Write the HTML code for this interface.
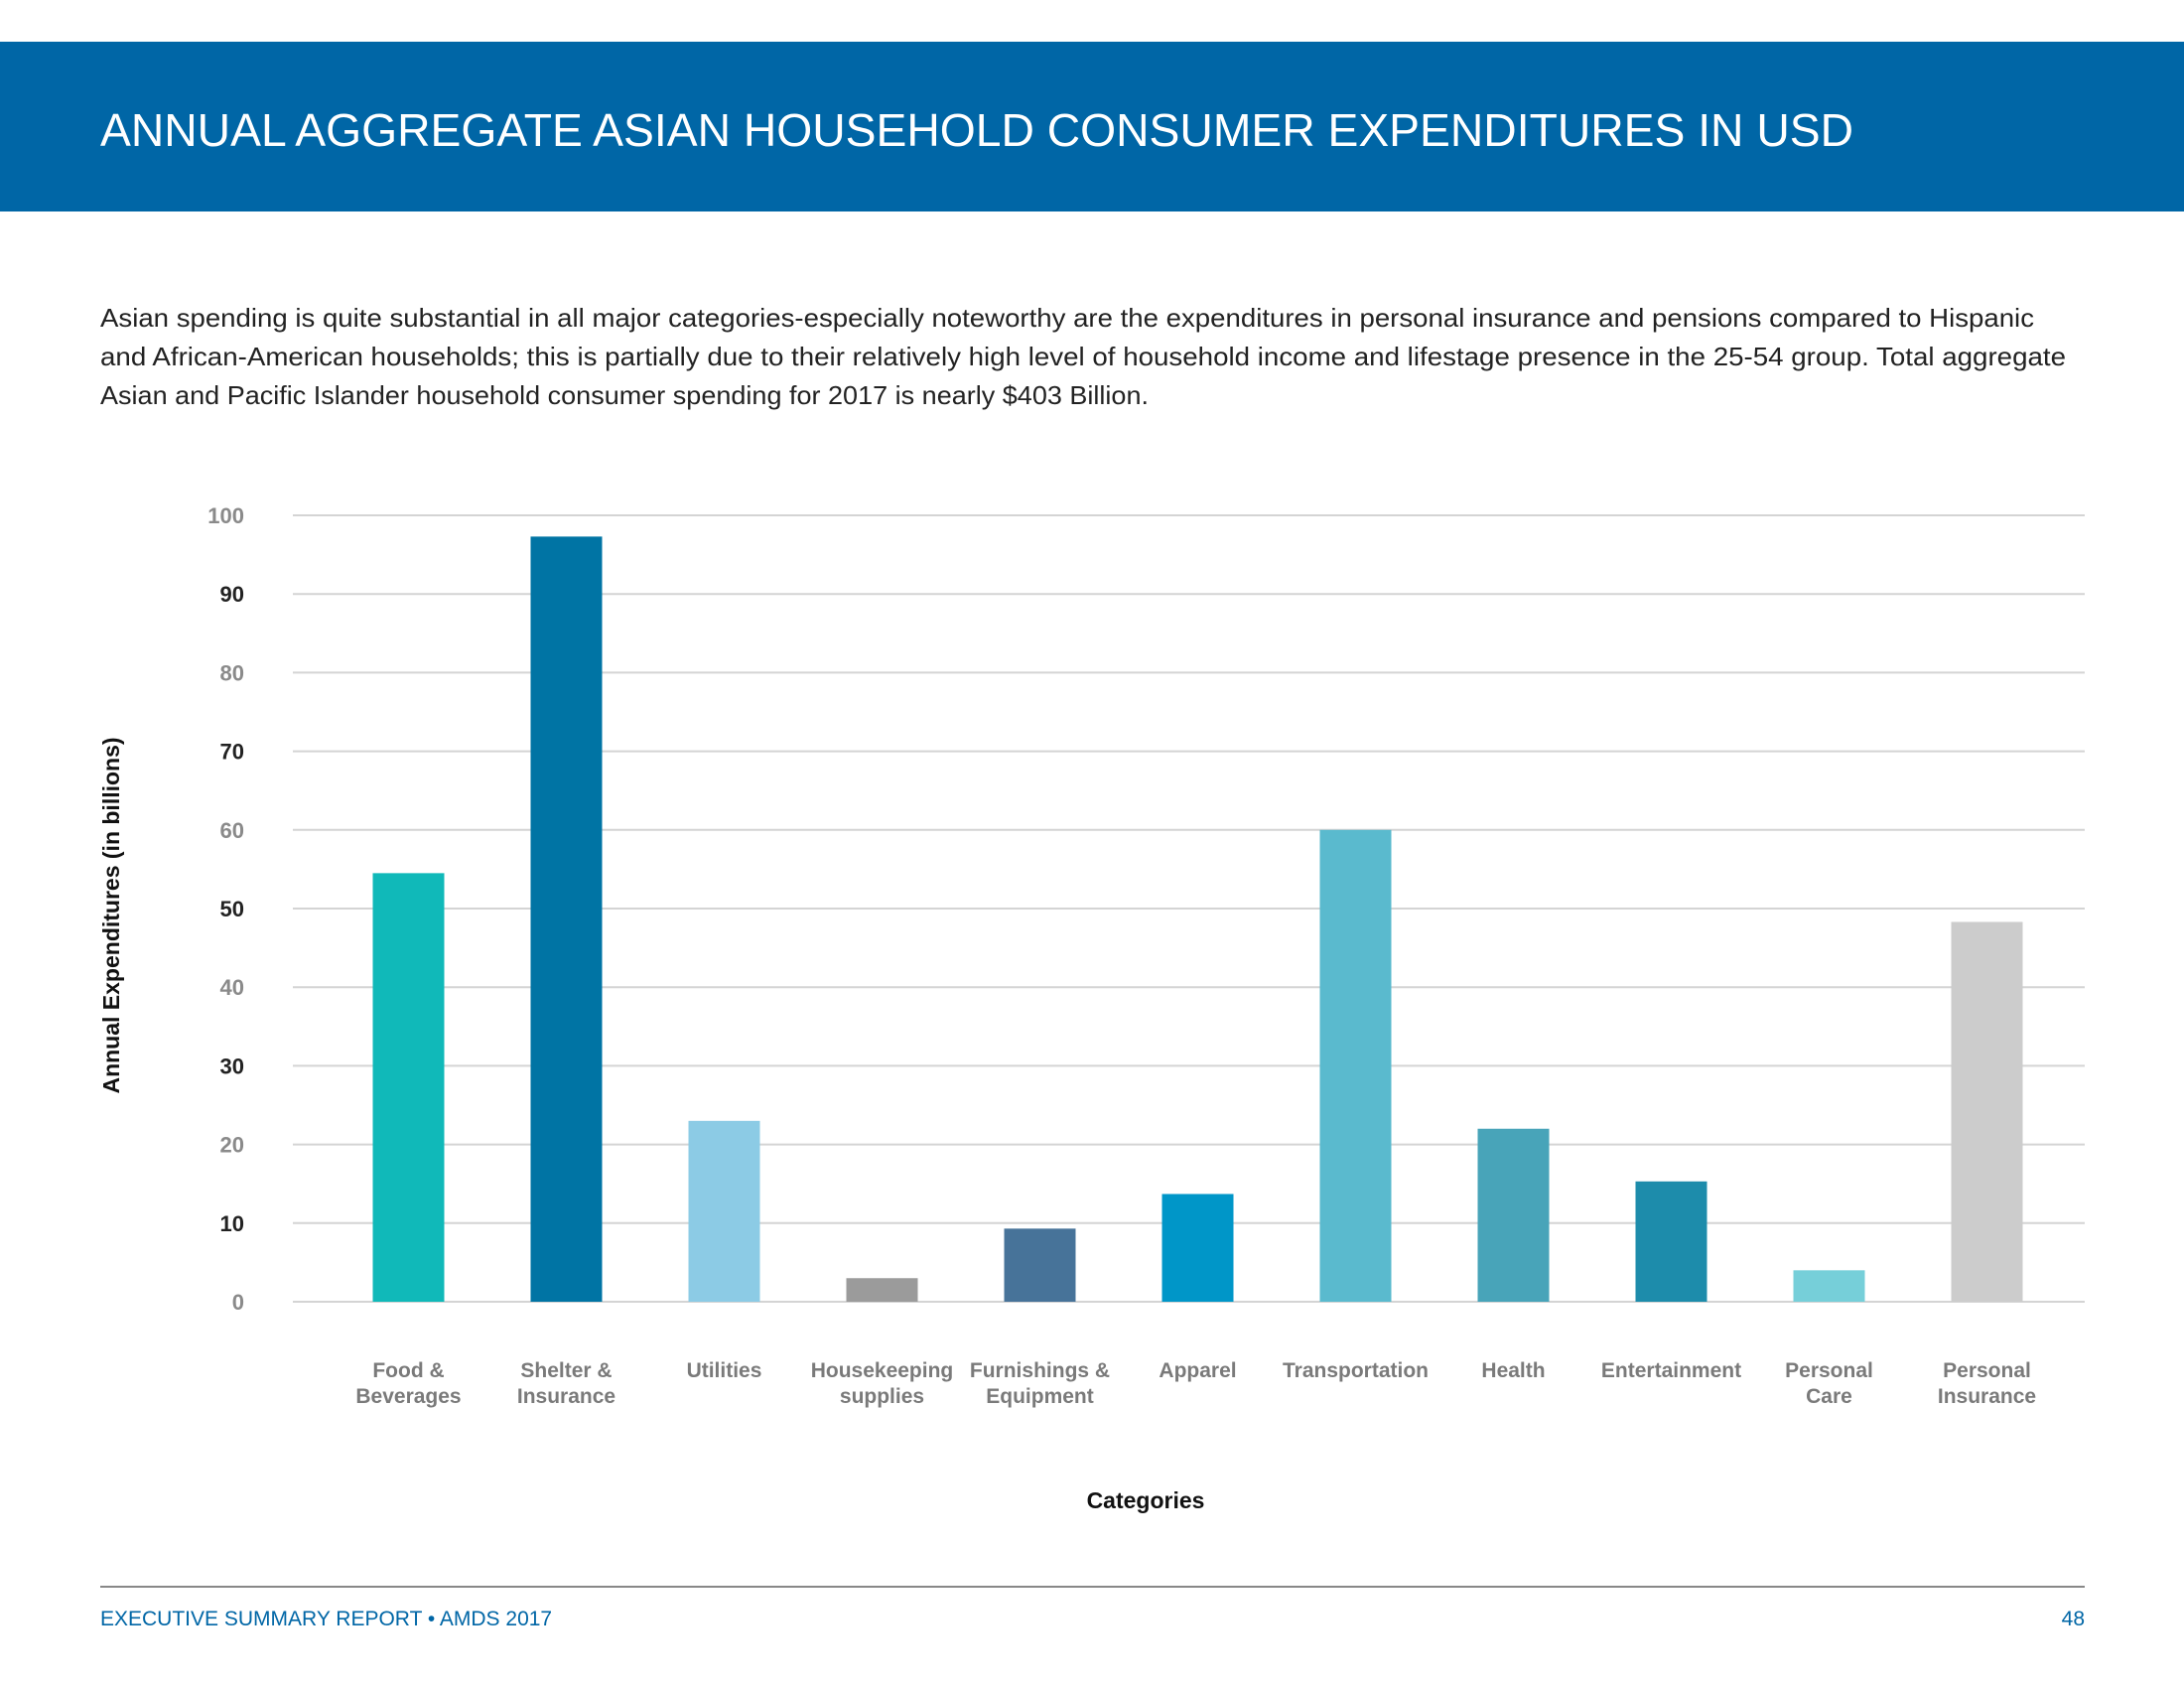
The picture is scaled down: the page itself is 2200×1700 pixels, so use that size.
<!DOCTYPE html>
<html><head><meta charset="utf-8"><style>
html,body{margin:0;padding:0;background:#fff;}
svg{display:block;font-family:"Liberation Sans",sans-serif;}
</style></head><body>
<svg id="page" width="2200" height="1700" viewBox="0 0 2200 1700">
<rect x="0" y="42" width="2200" height="171" fill="#0066a6"/>
<text x="101" y="147" font-size="46" fill="#fff" textLength="1766" lengthAdjust="spacingAndGlyphs">ANNUAL AGGREGATE ASIAN HOUSEHOLD CONSUMER EXPENDITURES IN USD</text>
<g font-size="26" fill="#222">
<text x="101" y="329" textLength="1948" lengthAdjust="spacingAndGlyphs">Asian spending is quite substantial in all major categories-especially noteworthy are the expenditures in personal insurance and pensions compared to Hispanic</text>
<text x="101" y="368" textLength="1980" lengthAdjust="spacingAndGlyphs">and African-American households; this is partially due to their relatively high level of household income and lifestage presence in the 25-54 group. Total aggregate</text>
<text x="101" y="407" textLength="1056" lengthAdjust="spacingAndGlyphs">Asian and Pacific Islander household consumer spending for 2017 is nearly $403 Billion.</text>
</g>
<g id="chart"></g>
<text x="1154" y="1519" font-size="23" font-weight="bold" fill="#111" text-anchor="middle">Categories</text>
<text transform="translate(120,922) rotate(-90)" font-size="23" font-weight="bold" fill="#111" text-anchor="middle">Annual Expenditures (in billions)</text>
<line x1="101" y1="1598" x2="2100" y2="1598" stroke="#888" stroke-width="2"/>
<text x="101" y="1637" font-size="21" fill="#0066a6">EXECUTIVE SUMMARY REPORT  •  AMDS 2017</text>
<text x="2100" y="1637" font-size="21" fill="#0066a6" text-anchor="end">48</text>
</svg>
<script>
const categories = [["Food &","Beverages"],["Shelter &","Insurance"],["Utilities"],["Housekeeping","supplies"],["Furnishings &","Equipment"],["Apparel"],["Transportation"],["Health"],["Entertainment"],["Personal","Care"],["Personal","Insurance"]];
const values = [54.5, 97.3, 23, 3, 9.3, 13.7, 60, 22, 15.3, 4, 48.3];
const barColors = ["#10b9b9","#0074a4","#8ccbe5","#9b9b9b","#477399","#0096c8","#5abace","#48a4b9","#1d8cab","#76cfd9","#cccccc"];
const yTicks = [0,10,20,30,40,50,60,70,80,90,100];
const NS="http://www.w3.org/2000/svg";
const g=document.getElementById('chart');
const X0=295,X1=2100,Y0=1311,Y100=519;
const y=v=>Y0-(v/100)*(Y0-Y100);
const bandStart=332,band=159,barW=72;
const xc=i=>bandStart+band*(i+0.5);
function mk(t,a){const e=document.createElementNS(NS,t);for(const k in a)e.setAttribute(k,a[k]);g.appendChild(e);return e;}
yTicks.forEach((t,i)=>{
  const l=mk('line',{x1:X0,x2:X1,y1:y(t),y2:y(t),stroke:'#d4d4d4','stroke-width':2});
  
  
  const tx=mk('text',{x:246,y:y(t)+8,'font-size':22,'font-weight':'bold','text-anchor':'end',fill:(i%2?'#222':'#8a8a8a')});
  tx.textContent=t;
  
  
});
values.forEach((v,i)=>{
  const r=mk('rect',{x:xc(i)-barW/2,y:y(v),width:barW,height:Y0-y(v),fill:barColors[i]});
  
  
  const tx=mk('text',{x:xc(i),y:1387,'font-size':21,'font-weight':'bold','text-anchor':'middle',fill:'#7a7a7a'});
  
  
  categories[i].forEach((s,j)=>{const ts=document.createElementNS(NS,'tspan');ts.setAttribute('x',xc(i));ts.setAttribute('dy',j?26:0);ts.textContent=s;tx.appendChild(ts);});
});
</script>
</body></html>
